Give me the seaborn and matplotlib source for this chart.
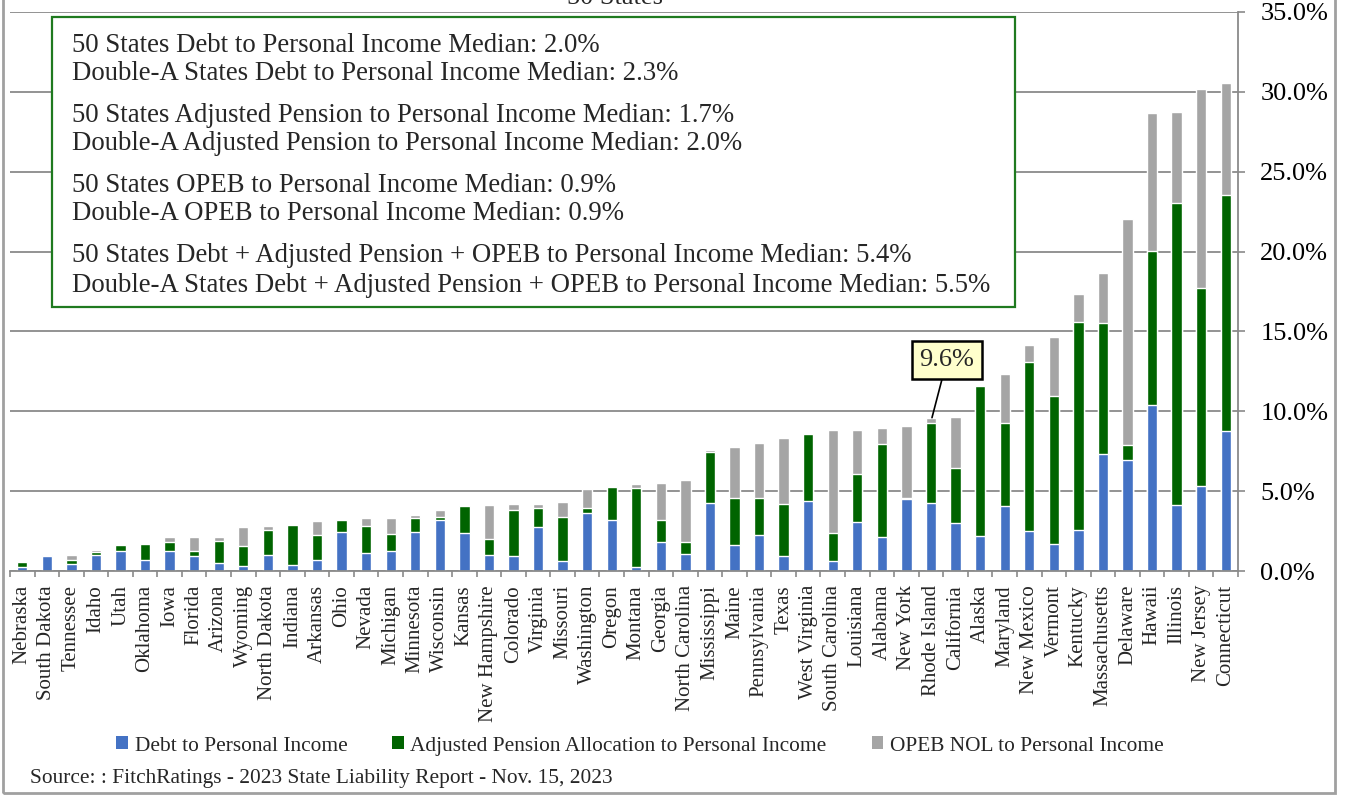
import matplotlib.pyplot as plt
import numpy as np
import pandas as pd
import seaborn as sns
from matplotlib.patches import Patch, Rectangle
from matplotlib.ticker import FuncFormatter

states = ["Nebraska", "South Dakota", "Tennessee", "Idaho", "Utah", "Oklahoma", "Iowa",
          "Florida", "Arizona", "Wyoming", "North Dakota", "Indiana", "Arkansas", "Ohio",
          "Nevada", "Michigan", "Minnesota", "Wisconsin", "Kansas", "New Hampshire",
          "Colorado", "Virginia", "Missouri", "Washington", "Oregon", "Montana", "Georgia",
          "North Carolina", "Mississippi", "Maine", "Pennsylvania", "Texas", "West Virginia",
          "South Carolina", "Louisiana", "Alabama", "New York", "Rhode Island", "California",
          "Alaska", "Maryland", "New Mexico", "Vermont", "Kentucky", "Massachusetts",
          "Delaware", "Hawaii", "Illinois", "New Jersey", "Connecticut"]

# % of personal income
debt = [0.28, 0.91, 0.43, 1.00, 1.26, 0.72, 1.28, 0.93, 0.47, 0.30, 1.03, 0.36, 0.68, 2.45,
        1.14, 1.26, 2.47, 3.20, 2.39, 0.99, 0.95, 2.78, 0.64, 3.66, 3.20, 0.28, 1.81, 1.06,
        4.25, 1.63, 2.25, 0.94, 4.36, 0.64, 3.04, 2.14, 4.50, 4.25, 2.98, 2.21, 4.10, 2.50,
        1.69, 2.56, 7.35, 6.98, 10.40, 4.13, 5.33, 8.75]
pension = [0.29, 0.10, 0.23, 0.17, 0.38, 0.96, 0.56, 0.33, 1.39, 1.25, 1.56, 2.54, 1.56, 0.73,
           1.70, 1.06, 0.83, 0.19, 1.66, 1.04, 2.89, 1.19, 2.75, 0.31, 2.04, 4.90, 1.40, 0.77,
           3.21, 2.95, 2.33, 3.23, 4.20, 1.72, 3.02, 5.82, 0.05, 5.00, 3.50, 9.37, 5.15, 10.56,
           9.25, 13.00, 8.15, 0.90, 9.66, 18.90, 12.42, 14.79]
opeb = [0.02, 0.02, 0.37, 0.12, 0.03, 0.04, 0.27, 0.88, 0.30, 1.23, 0.23, 0.03, 0.92, 0.04,
        0.46, 1.00, 0.23, 0.45, 0.02, 2.08, 0.38, 0.25, 0.95, 1.14, 0.06, 0.27, 2.31, 3.84,
        0.14, 3.19, 3.44, 4.14, 0.02, 6.45, 2.77, 1.02, 4.55, 0.35, 3.14, 0.00, 3.10, 1.11,
        3.73, 1.77, 3.15, 14.14, 8.59, 5.71, 12.42, 7.02]

series_names = ["Debt to Personal Income",
                "Adjusted Pension Allocation to Personal Income",
                "OPEB NOL to Personal Income"]
colors = ["#4472C4", "#006400", "#A5A5A5"]

box_lines = [
    "50 States Debt to Personal Income Median: 2.0%",
    "Double-A States Debt to Personal Income Median: 2.3%",
    "50 States Adjusted Pension to Personal Income Median: 1.7%",
    "Double-A Adjusted Pension to Personal Income Median: 2.0%",
    "50 States OPEB to Personal Income Median: 0.9%",
    "Double-A OPEB to Personal Income Median: 0.9%",
    "50 States Debt + Adjusted Pension + OPEB to Personal Income Median: 5.4%",
    "Double-A States Debt + Adjusted Pension + OPEB to Personal Income Median: 5.5%",
]
callout_state = "Rhode Island"


def main():
    df = pd.DataFrame({"state": states, "debt": debt, "pension": pension, "opeb": opeb})
    df["debt_pension"] = df["debt"] + df["pension"]
    df["total"] = df["debt_pension"] + df["opeb"]

    sns.set_theme(style="white")
    plt.rcParams["font.family"] = ["Liberation Serif", "DejaVu Serif"]

    W, H = 1348, 798
    fig = plt.figure(figsize=(W / 100, H / 100), dpi=100)
    ax = fig.add_axes([10 / W, 1 - 571 / H, 1228 / W, 559 / H])

    # stacked bars: draw cumulative totals back to front
    for col, c in zip(["total", "debt_pension", "debt"], colors[::-1]):
        sns.barplot(data=df, x="state", y=col, order=states, color=c, saturation=1,
                    width=0.42, errorbar=None, ax=ax)

    ax.set_xlim(-0.5, len(states) - 0.5)
    ax.set_ylim(0, 35)
    ax.set_xlabel("")
    ax.set_ylabel("")

    grid_c = "#8a8a8a"
    ax.yaxis.grid(True, color=grid_c, lw=1.3)
    ax.set_axisbelow(True)
    for s in ["left", "top"]:
        ax.spines[s].set_visible(False)
    for s in ["bottom", "right"]:
        ax.spines[s].set_color(grid_c)
        ax.spines[s].set_linewidth(1.3)

    ax.yaxis.tick_right()
    ax.set_yticks(np.arange(0, 35.1, 5))
    ax.yaxis.set_major_formatter(FuncFormatter(lambda v, p: f"{v:.1f}%"))
    ax.tick_params(axis="y", which="major", right=True, left=False, length=5, width=1.2,
                   color=grid_c, pad=11, labelsize=19, labelcolor="black")

    ax.set_xticks(range(len(states)))
    ax.set_xticklabels(states, rotation=90, fontsize=15)
    ax.set_xticks(np.arange(-0.5, len(states), 1), minor=True)
    ax.tick_params(axis="x", which="major", length=0, pad=10)
    ax.tick_params(axis="x", which="minor", length=4.5, width=1.2, color=grid_c, bottom=True)

    # callout on Rhode Island
    i = states.index(callout_state)
    tot = df.loc[i, "total"]
    ax.annotate(f"{tot:.1f}%", xy=(i + 0.04, tot), xytext=(i + 0.65, 13.2),
                ha="center", va="center", fontsize=19, zorder=6,
                bbox=dict(boxstyle="square,pad=0.3", fc="#FFFFCC", ec="black", lw=1.8),
                arrowprops=dict(arrowstyle="-", color="black", lw=1.2, shrinkA=0, shrinkB=0))

    # medians text box
    fig.add_artist(Rectangle((52 / W, 1 - 307 / H), 963 / W, 290 / H, transform=fig.transFigure,
                             fc="white", ec="#1F7A1F", lw=1.6, zorder=5))
    ys = [45, 73, 115, 143, 185, 213, 255, 285]
    for y, t in zip(ys, box_lines):
        fig.text(72 / W, 1 - y / H, t, fontsize=19.3, va="center", ha="left", zorder=6)

    handles = [Patch(fc=c, ec="none") for c in colors]
    ax.legend(handles, series_names, loc="center", bbox_to_anchor=(640 / W, 1 - 746 / H),
              bbox_transform=fig.transFigure, ncol=3, frameon=False, fontsize=15.4,
              handlelength=0.55, handleheight=0.55, handletextpad=0.3, columnspacing=2.1)

    fig.text(615 / W, 1 - 4 / H, "50 States", ha="center", va="baseline", fontsize=19)
    fig.text(30 / W, 1 - 778 / H, "Source: : FitchRatings - 2023 State Liability Report - Nov. 15, 2023",
             ha="left", va="center", fontsize=15.4)

    # outer chart border
    fig.add_artist(Rectangle((3 / W, 1 - 793 / H), 1332 / W, 1.0, transform=fig.transFigure,
                             fill=False, ec="#A0A0A0", lw=2))

    fig.savefig("out.png", dpi=100)
    plt.close(fig)


if __name__ == "__main__":
    main()
